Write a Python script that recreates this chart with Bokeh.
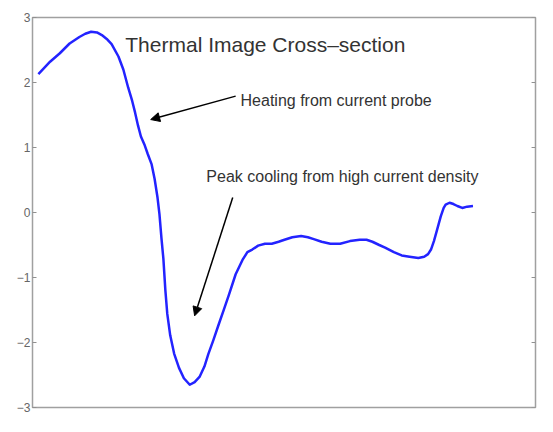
from bokeh.plotting import figure
from bokeh.models import (Range1d, FixedTicker, Arrow, NormalHead, Label)
from bokeh.embed import file_html
from bokeh.resources import INLINE

# Position along the cross-section (pixels) and temperature signal
x_pos = [6, 18, 28, 38, 48, 54, 60, 66, 71, 76, 81, 88, 93, 98, 102, 105, 108, 111, 115, 118, 122,
         125, 128, 130, 132, 134, 136, 138, 141, 145, 150, 155, 161, 166, 171, 176, 180,
         185, 190, 196, 201, 208, 215, 220, 225, 231, 238, 245, 252, 258, 266, 275, 282,
         288, 296, 305, 315, 325, 335, 342, 348, 355, 361, 370, 378, 386, 395, 401, 405,
         408, 411, 414, 418, 421, 423, 427, 431, 435, 440, 445, 451]
signal = [2.13, 2.32, 2.45, 2.60, 2.70, 2.75, 2.78, 2.77, 2.73, 2.67, 2.59, 2.40, 2.20, 1.92, 1.72, 1.54,
          1.34, 1.17, 1.03, 0.90, 0.74, 0.52, 0.23, -0.03, -0.39, -0.71, -1.19, -1.56,
          -1.89, -2.17, -2.39, -2.55, -2.65, -2.61, -2.53, -2.37, -2.18, -1.97, -1.75,
          -1.49, -1.27, -0.95, -0.73, -0.61, -0.57, -0.51, -0.48, -0.48, -0.45, -0.42,
          -0.38, -0.36, -0.38, -0.41, -0.45, -0.48, -0.48, -0.44, -0.42, -0.42, -0.45,
          -0.50, -0.54, -0.61, -0.66, -0.68, -0.70, -0.68, -0.64, -0.57, -0.44, -0.28,
          -0.06, 0.07, 0.12, 0.15, 0.13, 0.10, 0.07, 0.09, 0.10]
y_ticks = [-3, -2, -1, 0, 1, 2, 3]

title_text = "Thermal Image Cross\u2013section"
note1 = "Heating from current probe"
note2 = "Peak cooling from high current density"

FONT = "Liberation Sans"
X_MIN, X_MAX = 0, 515

p = figure(width=537, height=416, output_backend="svg", toolbar_location=None,
           x_range=Range1d(X_MIN, X_MAX), y_range=Range1d(-3, 3),
           min_border_left=32, min_border_right=2, min_border_top=17, min_border_bottom=9)
p.xaxis.visible = False
p.grid.visible = False
p.outline_line_color = "#a0a0a0"
p.outline_line_width = 1.5
p.background_fill_color = "white"
p.border_fill_color = "white"

ya = p.yaxis[0]
ya.ticker = FixedTicker(ticks=y_ticks)
ya.axis_line_color = None
ya.major_tick_in = 4
ya.major_tick_out = 0
ya.minor_tick_line_color = None
ya.major_tick_line_color = "#909090"
ya.major_label_text_font = FONT
ya.major_label_text_font_size = "12px"
ya.major_label_text_color = "#666666"
ya.major_label_standoff = 2

# inward tick marks on the right frame edge, at the same tick values
p.segment(x0=[X_MAX] * len(y_ticks), y0=y_ticks,
          x1=[X_MAX - 4] * len(y_ticks), y1=y_ticks,
          line_color="#909090", line_width=1)

p.line(x_pos, signal, line_color="#2323ff", line_width=2.5, line_join="round")

p.add_layout(Arrow(end=NormalHead(size=9, fill_color="black", line_color="black"),
                   x_start=208, y_start=1.79, x_end=121, y_end=1.43,
                   line_color="black", line_width=1.5))
p.add_layout(Arrow(end=NormalHead(size=9, fill_color="black", line_color="black"),
                   x_start=205, y_start=0.23, x_end=166, y_end=-1.59,
                   line_color="black", line_width=1.5))

p.add_layout(Label(x=95, y=2.59, text=title_text, text_font=FONT, text_font_size="21px",
                   text_color="#333333", text_baseline="middle"))
p.add_layout(Label(x=213, y=1.72, text=note1, text_font=FONT, text_font_size="16px",
                   text_color="#333333", text_baseline="middle"))
p.add_layout(Label(x=178, y=0.55, text=note2, text_font=FONT, text_font_size="16px",
                   text_color="#333333", text_baseline="middle"))

open("out.html", "w").write(file_html(p, INLINE))
